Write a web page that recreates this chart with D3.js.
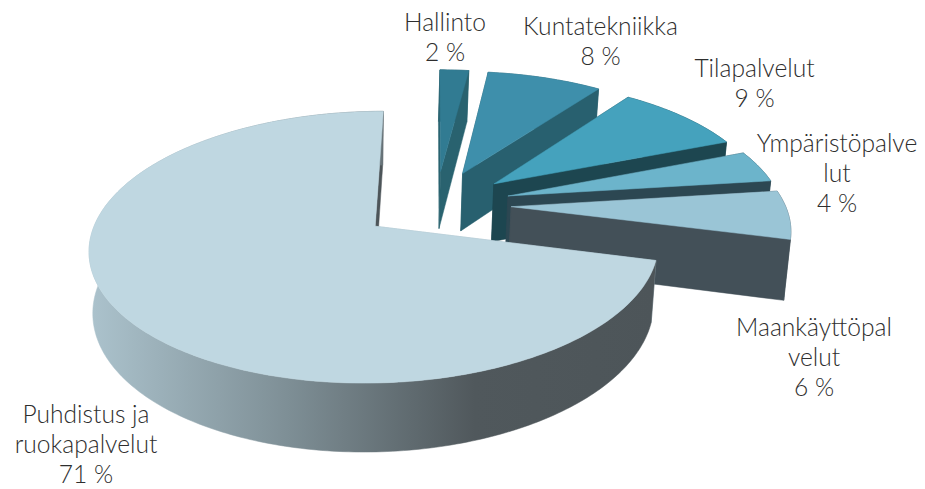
<!DOCTYPE html>
<html>
<head>
<meta charset="utf-8">
<script src="https://cdn.jsdelivr.net/npm/d3@7/dist/d3.min.js"></script>
<style>
html,body{margin:0;padding:0;background:#fff;}
svg{display:block;}
text{font-family:"Lato","Open Sans",sans-serif;font-weight:300;font-size:24.6px;fill:#2e2e2e;text-anchor:middle;}
</style>
</head>
<body>
<div id="chart"></div>
<script>
const categories = ["Hallinto","Kuntatekniikka","Tilapalvelut","Ympäristöpalvelut","Maankäyttöpalvelut","Puhdistus ja ruokapalvelut"];
const values = [2,8,9,4,6,71];
const labelLines = [["Hallinto"],["Kuntatekniikka"],["Tilapalvelut"],["Ympäristöpalve","lut"],["Maankäyttöpal","velut"],["Puhdistus ja","ruokapalvelut"]];
const topColors = ["#317b92","#3e8fab","#45a2bd","#6cb4cb","#9ac5d6","#bfd7e1"];
const sideColors = ["#29626f","#28606f","#1d4650","#2c4752","#435058","#a3b9c2"];

const W = 925, H = 489;
const ox = 436, oy = 204.5, tilt = 0.46, persp = 0.00055, vanishX = 340;
const R = 274, explode = 75, depth = 59, shrink = 0.985;
const labelAnchors = [[445,31],[600.5,35],[754.5,77],[837,152],[814,336],[86,423]];
const lineH = 30.2;

const svg = d3.select("#chart").append("svg").attr("width",W).attr("height",H);
const defs = svg.append("defs");
const grad = defs.append("linearGradient").attr("id","wallGrad")
  .attr("gradientUnits","userSpaceOnUse").attr("x1",92).attr("x2",655).attr("y1",0).attr("y2",0);
[[0,"#abc2cc"],[0.34,"#7f9097"],[0.68,"#50585c"],[1,"#4d5559"]].forEach(s=>
  grad.append("stop").attr("offset",s[0]).attr("stop-color",s[1]));

function project(X,Y,low){
  const s = 1/(1-persp*Y);
  const x = ox + X*s, y = oy + tilt*Y*s;
  if(!low) return [x,y];
  return [vanishX + (x-vanishX)*shrink, oy + (y-oy)*shrink + depth*s];
}
const path = d3.line();
const pie = d3.pie().sort(null).startAngle(0).endAngle(2*Math.PI)(values);

pie.forEach((d,i)=>{
  const mid = (d.startAngle+d.endAngle)/2;
  const dx = explode*Math.sin(mid), dy = -explode*Math.cos(mid);
  const at = (a,r)=>[dx+r*Math.sin(a), dy-r*Math.cos(a)];
  const n = Math.max(4,Math.ceil((d.endAngle-d.startAngle)*60));
  const angles = d3.range(n+1).map(k=>d.startAngle+(d.endAngle-d.startAngle)*k/n);
  const apex = at(0,0);
  const P = (p,low)=>project(p[0],p[1],low);
  const g = svg.append("g").attr("class","slice").attr("data-name",categories[i]);
  const big = i===values.length-1;
  const side = sideColors[i];
  const poly = (pts,fill)=>g.append("path").attr("d",path(pts)+"Z").attr("fill",fill).attr("stroke",fill).attr("stroke-width",0.5);
  const endP = at(d.endAngle,R), startP = at(d.startAngle,R);
  if(big) poly([P(apex),P(endP),P(endP,true),P(apex,true)],"#4d5559");
  poly([P(apex),P(startP),P(startP,true),P(apex,true)],side);
  const arcPts = angles.map(a=>at(a,R));
  poly(arcPts.map(p=>P(p)).concat(arcPts.slice().reverse().map(p=>P(p,true))), big?"url(#wallGrad)":side);
  if(!big) poly([P(apex),P(endP),P(endP,true),P(apex,true)],side);
  poly([P(apex)].concat(arcPts.map(p=>P(p))),topColors[i]);
});

const labels = svg.append("g").attr("class","labels");
categories.forEach((c,i)=>{
  const lines = labelLines[i].concat([values[i]+" %"]);
  const t = labels.append("text").attr("x",labelAnchors[i][0]).attr("y",labelAnchors[i][1]);
  lines.forEach((l,j)=>t.append("tspan").attr("x",labelAnchors[i][0]).attr("y",labelAnchors[i][1]+j*lineH).text(l));
});
</script>
</body>
</html>
